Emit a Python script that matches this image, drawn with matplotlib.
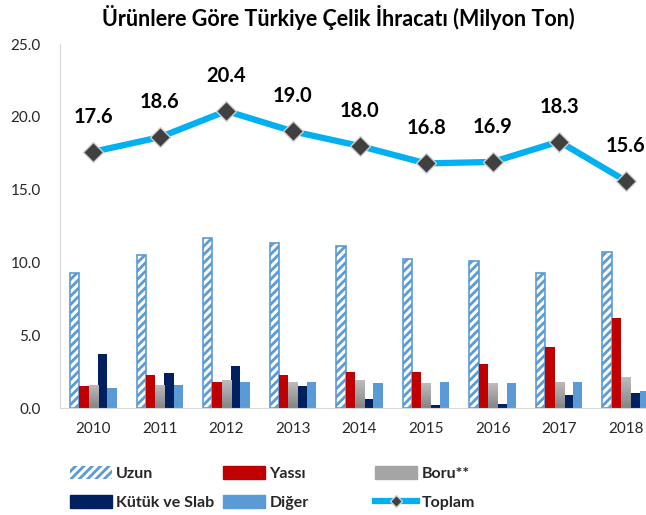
import numpy as np
import matplotlib
matplotlib.use('Agg')
import matplotlib.pyplot as plt
from matplotlib.patches import Patch
from matplotlib.lines import Line2D
from matplotlib.colors import LinearSegmentedColormap

plt.rcParams['font.family'] = ['Lato', 'DejaVu Sans']
plt.rcParams['hatch.linewidth'] = 2.0

years = ['2010', '2011', '2012', '2013', '2014', '2015', '2016', '2017', '2018']
uzun = [9.3, 10.5, 11.7, 11.3, 11.1, 10.2, 10.1, 9.3, 10.7]
yassi = [1.5, 2.3, 1.8, 2.3, 2.5, 2.5, 3.0, 4.2, 6.2]
boru = [1.6, 1.6, 1.9, 1.8, 1.9, 1.7, 1.7, 1.8, 2.1]
kutuk = [3.7, 2.4, 2.9, 1.5, 0.6, 0.2, 0.3, 0.9, 1.0]
diger = [1.4, 1.6, 1.8, 1.8, 1.7, 1.8, 1.7, 1.8, 1.2]
toplam = [17.6, 18.6, 20.4, 19.0, 18.0, 16.8, 16.9, 18.3, 15.6]

C_BLUE = '#5B9BD5'
C_RED = '#C00000'
C_GRAY = '#A5A5A5'
C_NAVY = '#002060'
C_LINE = '#00B0F0'
C_TEXT = '#262626'

fig = plt.figure(figsize=(6.46, 5.15), dpi=100)
ax = fig.add_axes([60 / 646, 1 - 408 / 515, 599 / 646, 364 / 515])

x = np.arange(len(years))
w = 0.14
# Uzun: taralı (beyaz + mavi şerit)
ax.bar(x - 2 * w, uzun, w, facecolor='white', edgecolor=C_BLUE, hatch='////', lw=1.2)
ax.bar(x - w, yassi, w, color=C_RED)
bars_boru = ax.bar(x, boru, w, color=C_GRAY)
ax.bar(x + w, kutuk, w, color=C_NAVY)
ax.bar(x + 2 * w, diger, w, color=C_BLUE)

# Boru: üstten alta gri geçiş
gcm = LinearSegmentedColormap.from_list('g', ['#858585', '#BDBDBD'])
grad = np.linspace(0, 1, 64).reshape(-1, 1)
for b in bars_boru:
    x0, h = b.get_x(), b.get_height()
    im = ax.imshow(grad, cmap=gcm, origin='lower', aspect='auto',
                   extent=(x0, x0 + b.get_width(), 0, h), zorder=b.get_zorder())
    im.set_clip_path(b)

ax.plot(x, toplam, color=C_LINE, lw=4.5, marker='D', ms=10,
        mfc='#404040', mec='#D0D0D0', mew=1.0, zorder=5)
for xi, v in zip(x, toplam):
    ax.annotate(f'{v:.1f}', (xi, v), xytext=(0, 18), textcoords='offset points',
                ha='center', va='bottom', fontsize=14.5, fontweight='bold', color='black')

ax.set_xlim(-0.5, len(years) - 0.5)
ax.set_ylim(0, 25)
ax.set_yticks(np.arange(0, 25.1, 5))
ax.set_yticklabels([f'{t:.1f}' for t in np.arange(0, 25.1, 5)])
ax.set_xticks(x)
ax.set_xticklabels(years)
ax.tick_params(axis='y', length=0, pad=14, labelsize=11, labelcolor=C_TEXT)
ax.tick_params(axis='x', length=0, pad=10, labelsize=11, labelcolor=C_TEXT)
for s in ['top', 'right']:
    ax.spines[s].set_visible(False)
ax.spines['left'].set_color('#D9D9D9')
ax.spines['bottom'].set_color('#D9D9D9')

fig.text(338 / 646, 1 - 18 / 515, 'Ürünlere Göre Türkiye Çelik İhracatı (Milyon Ton)',
         ha='center', va='center', fontsize=15.5, fontweight='bold', color='black')

h_uzun = Patch(facecolor='white', edgecolor=C_BLUE, hatch='////', lw=0)
h_yassi = Patch(color=C_RED)
h_boru = Patch(color=C_GRAY)
h_kutuk = Patch(color=C_NAVY)
h_diger = Patch(color=C_BLUE)
h_top = Line2D([], [], color=C_LINE, lw=4.5, marker='D', ms=6, mfc='#404040', mec='#D0D0D0')

# Excel gibi eşit genişlikte sütunlar: her sütun ayrı lejant
cols = [([h_uzun, h_kutuk], ['Uzun', 'Kütük ve Slab'], 70),
        ([h_yassi, h_diger], ['Yassı', 'Diğer'], 223),
        ([h_boru, h_top], ['Boru**', 'Toplam'], 375)]
for hs, ls, px in cols:
    leg = fig.legend(hs, ls, loc='upper left', bbox_to_anchor=(px / 646, 1 - 466 / 515),
                     frameon=False, borderpad=0, borderaxespad=0, handlelength=2.6,
                     handleheight=0.9, handletextpad=0.3, labelspacing=0.85,
                     prop={'size': 11.5, 'weight': 'bold'})
    for t in leg.get_texts():
        t.set_color(C_TEXT)

fig.savefig('out.png', dpi=100)
